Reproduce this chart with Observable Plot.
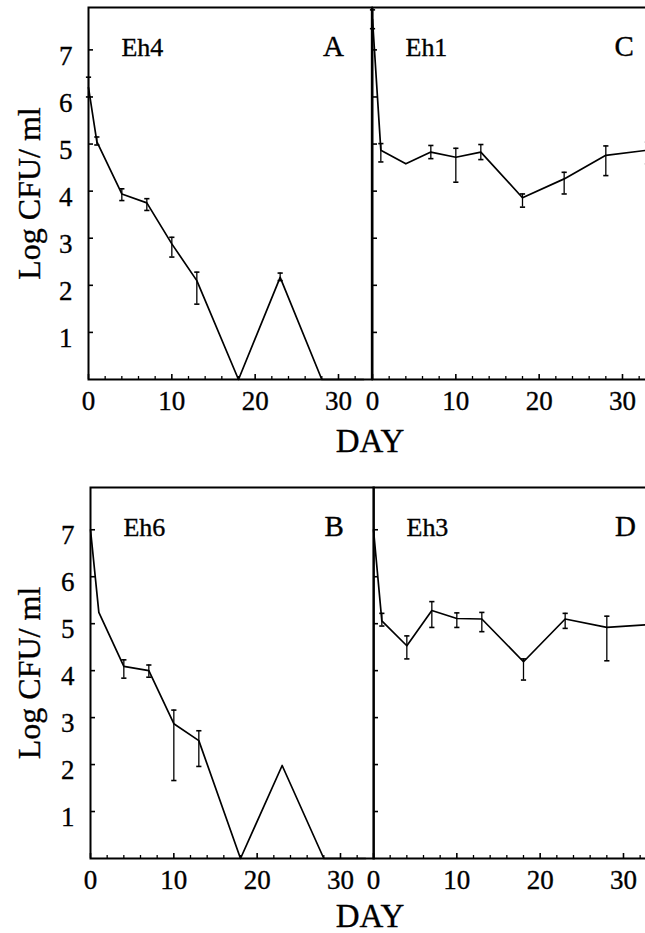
<!DOCTYPE html>
<html><head><meta charset="utf-8">
<script src="https://cdn.jsdelivr.net/npm/d3@7"></script>
<script src="https://cdn.jsdelivr.net/npm/@observablehq/plot@0.6"></script>
<style>
html,body{margin:0;padding:0;background:#fff;overflow:hidden}
#chart{position:relative;width:645px;height:933px;overflow:hidden;background:#fff;font-family:"Liberation Serif","Times New Roman",serif;color:#000}
.panel{position:absolute}
.panel svg{max-width:none !important;display:block}
.panel svg text{stroke:#000;stroke-width:0.35px}
.daylabel{position:absolute;font-size:33px;line-height:33px;transform:translateX(-50%);white-space:nowrap;-webkit-text-stroke:0.35px #000}
</style></head><body><div id="chart"></div>
<script>
// ---- data ----
const days = [0, 1, 4, 7, 10, 13, 18, 23, 28, 33];

const eh4   = [6.2, 5.05, 3.94, 3.75, 2.88, 2.1, 0, 2.17, 0, 0];
const eh4Lo = [6.0, 4.98, 3.8, 3.59, 2.6, 1.6, null, 2.1, null, null];
const eh4Hi = [6.42, 5.15, 4.05, 3.84, 3.02, 2.28, null, 2.26, null, null];

const eh1   = [7.65, 4.87, 4.58, 4.83, 4.72, 4.83, 3.86, 4.26, 4.76, 4.87];
const eh1Lo = [7.45, 4.62, null, 4.69, 4.19, 4.67, 3.66, 3.94, 4.33, 4.58];
const eh1Hi = [7.85, 5.01, null, 4.97, 4.91, 4.99, 3.94, 4.4, 4.96, 5.04];

const eh6   = [7.0, 5.24, 4.09, 4.0, 2.87, 2.51, 0, 1.98, 0, 0];
const eh6Lo = [null, null, 3.84, 3.86, 1.66, 1.96, null, null, null, null];
const eh6Hi = [null, null, 4.23, 4.12, 3.16, 2.72, null, null, null, null];

const eh3   = [7.0, 5.06, 4.53, 5.28, 5.11, 5.1, 4.19, 5.1, 4.92, 4.98];
const eh3Lo = [null, 4.95, 4.25, 4.92, 4.92, 4.83, 3.8, 4.9, 4.21, null];
const eh3Hi = [null, 5.22, 4.74, 5.47, 5.23, 5.24, 4.25, 5.22, 5.16, null];

const yTicks = [1, 2, 3, 4, 5, 6, 7];
const xMajor = [0, 10, 20, 30];
const xMinor = [2, 4, 6, 8, 12, 14, 16, 18, 22, 24, 26, 28, 32];
const xDomain = [0, 34];
const yDomain = [0, 7.9];
const yTitle = "Log CFU/ ml";
const xTitle = "DAY";

// ---- drawing ----
const FONT = "Liberation Serif, Times New Roman, serif";
const cap = {draw(ctx, size) { const r = Math.sqrt(size / Math.PI); ctx.moveTo(-r, 0); ctx.lineTo(r, 0); }};
const chart = document.getElementById("chart");

function panel({values, lo, hi, name, letter, left, top, mL, innerH, showY, letterDx, labPad}) {
  const innerW = 283.33, mT = 7, mB = 60, mR = 0;
  const data = days.map((d, i) => ({day: d, v: values[i], lo: lo[i], hi: hi[i]}));
  const err = data.filter(d => d.lo != null && d.hi != null);
  const marks = [
    Plot.frame({strokeWidth: 2}),
    Plot.tickY(yTicks, {y: d => d, strokeWidth: 1.6, insetRight: innerW - 5}),
    Plot.tickX(xMinor, {x: d => d, strokeWidth: 1.3, insetTop: innerH - 3}),
    Plot.tickX(xMajor, {x: d => d, strokeWidth: 1.6, insetTop: innerH - 5}),
    Plot.axisX({ticks: xMajor, tickSize: 0, tickPadding: labPad, fontSize: 27, label: null}),
    Plot.ruleX(err, {x: "day", y1: "lo", y2: "hi", strokeWidth: 1.3}),
    Plot.dot(err, {x: "day", y: "lo", symbol: cap, r: 2.6, fill: "none", stroke: "black", strokeWidth: 1.6}),
    Plot.dot(err, {x: "day", y: "hi", symbol: cap, r: 2.6, fill: "none", stroke: "black", strokeWidth: 1.6}),
    Plot.line(data, {x: "day", y: "v", stroke: "black", strokeWidth: 1.7}),
    Plot.text([name], {text: d => d, frameAnchor: "top-left", dx: 33, dy: 30, textAnchor: "start", lineAnchor: "top", fontSize: 26}),
    Plot.text([letter], {text: d => d, frameAnchor: "top-right", dx: letterDx, dy: 28, textAnchor: "end", lineAnchor: "top", fontSize: 29})
  ];
  if (showY) {
    marks.push(Plot.axisY({ticks: yTicks, tickSize: 0, tickPadding: 16, dy: 6, fontSize: 27, label: null}));
    marks.push(Plot.text([yTitle], {text: d => d, frameAnchor: "left", dx: -(mL - 29), rotate: -90, textAnchor: "middle", lineAnchor: "middle", fontSize: 32}));
  } else {
    marks.push(Plot.axisY({ticks: [], label: null}));
  }
  const svg = Plot.plot({
    width: mL + innerW + mR,
    height: mT + innerH + mB,
    marginLeft: mL, marginRight: mR, marginTop: mT, marginBottom: mB,
    x: {domain: xDomain, axis: null},
    y: {domain: yDomain},
    style: {fontFamily: FONT, background: "transparent", maxWidth: "none", overflow: "visible", color: "black"},
    marks
  });
  const div = document.createElement("div");
  div.className = "panel";
  div.style.left = left + "px";
  div.style.top = top + "px";
  div.appendChild(svg);
  chart.appendChild(div);
}

panel({values: eh4, lo: eh4Lo, hi: eh4Hi, name: "Eh4", letter: "A", left: 0, top: 0, mL: 88, innerH: 372, showY: true, letterDx: -28, labPad: 11});
panel({values: eh1, lo: eh1Lo, hi: eh1Hi, name: "Eh1", letter: "C", left: 370, top: 0, mL: 2, innerH: 372, showY: false, letterDx: -22, labPad: 11});
panel({values: eh6, lo: eh6Lo, hi: eh6Hi, name: "Eh6", letter: "B", left: 0, top: 480, mL: 90, innerH: 371, showY: true, letterDx: -30, labPad: 11});
panel({values: eh3, lo: eh3Lo, hi: eh3Hi, name: "Eh3", letter: "D", left: 371, top: 480, mL: 2, innerH: 371, showY: false, letterDx: -21, labPad: 11});

function dayLabel(x, top) {
  const d = document.createElement("div");
  d.className = "daylabel";
  d.textContent = xTitle;
  d.style.left = x + "px";
  d.style.top = top + "px";
  chart.appendChild(d);
}
dayLabel(370, 425);
dayLabel(370, 900);
</script></body></html>
